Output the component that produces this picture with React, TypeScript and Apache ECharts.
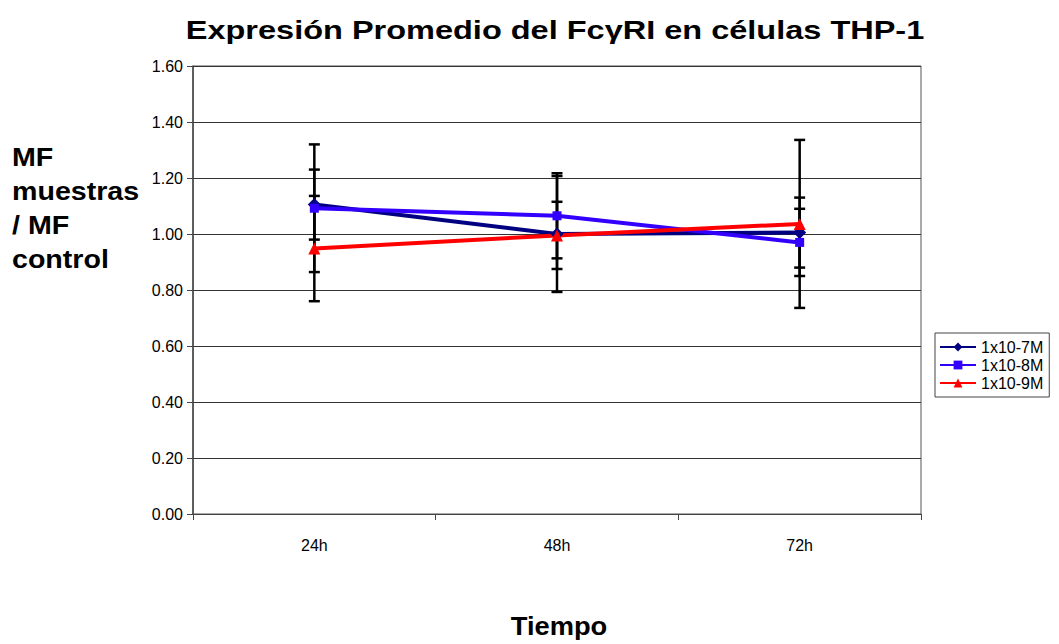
import React, { useEffect, useRef } from "react";
import * as echarts from "echarts";

const categories = ["24h", "48h", "72h"];
const seriesNames = ["1x10-7M", "1x10-8M", "1x10-9M"];
const mean7 = [1.105, 1.0, 1.005];
const sd7 = [0.125, 0.207, 0.125];
const mean8 = [1.092, 1.065, 0.97];
const sd8 = [0.228, 0.152, 0.12];
const mean9 = [0.948, 0.995, 1.036];
const sd9 = [0.188, 0.12, 0.3];
const yTicks = [0, 0.2, 0.4, 0.6, 0.8, 1.0, 1.2, 1.4, 1.6];

const FONT = "'Liberation Sans', Arial, sans-serif";
const colors = ["#000080", "#3300FF", "#FF0000"];
const symbols = ["diamond", "rect", "triangle"];
const symbolSizes = [13, 9, 12];

export default function App() {
  const ref = useRef<HTMLDivElement>(null);

  useEffect(() => {
    if (!ref.current) return;
    const chart = echarts.init(ref.current, null, { renderer: "svg" });

    const means = [mean7, mean8, mean9];
    const sds = [sd7, sd8, sd9];
    const errData: number[][] = [];
    means.forEach((m, s) =>
      m.forEach((v, i) => errData.push([i, v - sds[s][i], v + sds[s][i]]))
    );

    const lineSeries = means.map((m, s) => ({
      name: seriesNames[s],
      type: "line",
      data: m,
      z: 3,
      symbol: symbols[s],
      symbolSize: symbolSizes[s],
      itemStyle: { color: colors[s] },
      lineStyle: { color: colors[s], width: 4 },
    }));

    chart.setOption({
      animation: false,
      backgroundColor: "#fff",
      textStyle: { fontFamily: FONT },
      grid: { left: 193, right: 138, top: 66, bottom: 130, show: true, borderColor: "#555", borderWidth: 1 },
      legend: {
        orient: "vertical",
        left: 935,
        top: 333,
        data: seriesNames,
        itemWidth: 36,
        itemHeight: 11,
        itemGap: 2,
        padding: [6, 6, 6, 4],
        borderColor: "#444",
        borderWidth: 1,
        textStyle: { fontFamily: FONT, fontSize: 16, lineHeight: 15, color: "#000" },
      },
      xAxis: {
        type: "category",
        data: categories,
        boundaryGap: true,
        axisLine: { lineStyle: { color: "#444", width: 1 } },
        axisTick: { show: true, length: 6, lineStyle: { color: "#444" } },
        axisLabel: { color: "#000", fontSize: 16, fontFamily: FONT, margin: 23 },
      },
      yAxis: {
        type: "value",
        min: 0,
        max: 1.6,
        interval: 0.2,
        axisLine: { show: true, lineStyle: { color: "#444", width: 1.5 } },
        axisTick: { show: true, length: 6, lineStyle: { color: "#444" } },
        splitLine: { lineStyle: { color: "#333", width: 1 } },
        axisLabel: {
          color: "#000",
          fontSize: 16,
          fontFamily: FONT,
          margin: 10,
          formatter: (v: number) => {
            const t = yTicks.find((x) => Math.abs(x - v) < 1e-6);
            return (t ?? v).toFixed(2);
          },
        },
      },
      series: [
        {
          type: "custom",
          z: 2,
          data: errData,
          renderItem: (params: any, api: any) => {
            const x = api.value(0);
            const lo = api.coord([x, api.value(1)]);
            const hi = api.coord([x, api.value(2)]);
            const cap = 5.5;
            const style = { stroke: "#000", lineWidth: 2.5 };
            return {
              type: "group",
              children: [
                { type: "line", shape: { x1: hi[0], y1: hi[1], x2: lo[0], y2: lo[1] }, style },
                { type: "line", shape: { x1: hi[0] - cap, y1: hi[1], x2: hi[0] + cap, y2: hi[1] }, style },
                { type: "line", shape: { x1: lo[0] - cap, y1: lo[1], x2: lo[0] + cap, y2: lo[1] }, style },
              ],
            };
          },
        },
        ...lineSeries,
      ],
      graphic: [
        {
          type: "text",
          x: 555,
          y: 30,
          scaleX: 1.25,
          style: {
            text: "Expresión Promedio del FcγRI en células THP-1",
            fontFamily: FONT,
            fontSize: 26,
            fontWeight: "bold",
            fill: "#000",
            align: "center",
            verticalAlign: "middle",
          },
        },
        {
          type: "text",
          x: 12,
          y: 140,
          scaleX: 1.1,
          style: {
            text: "MF\nmuestras\n/ MF\ncontrol",
            fontFamily: FONT,
            fontSize: 26,
            fontWeight: "bold",
            lineHeight: 34,
            fill: "#000",
            align: "left",
            verticalAlign: "top",
          },
        },
        {
          type: "text",
          x: 559,
          y: 626,
          scaleX: 1.05,
          style: {
            text: "Tiempo",
            fontFamily: FONT,
            fontSize: 26,
            fontWeight: "bold",
            fill: "#000",
            align: "center",
            verticalAlign: "middle",
          },
        },
      ],
    });

    return () => chart.dispose();
  }, []);

  return <div ref={ref} style={{ width: 1059, height: 644, position: "absolute", left: 0, top: 0 }} />;
}
